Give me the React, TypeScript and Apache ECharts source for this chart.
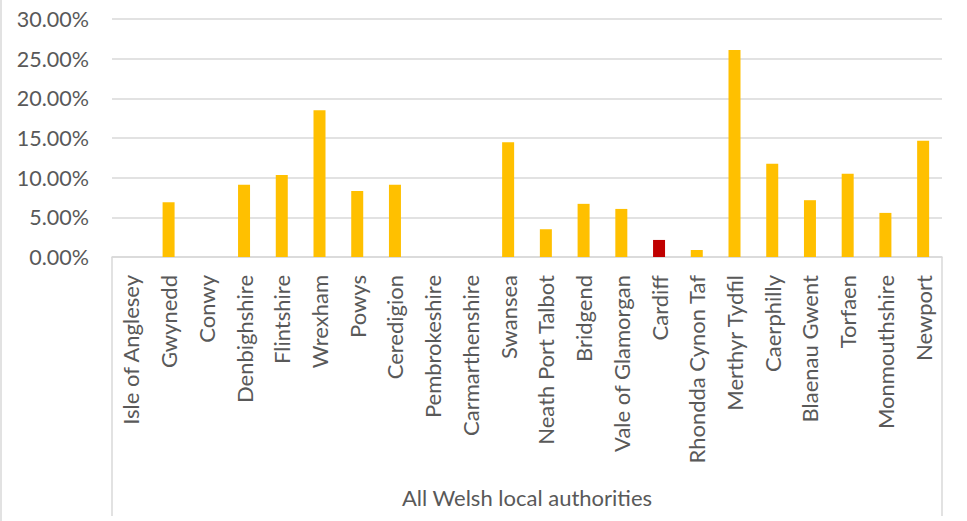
import React, { useEffect, useRef } from "react";
import * as echarts from "echarts";

const categories = [
  "Isle of Anglesey", "Gwynedd", "Conwy", "Denbighshire", "Flintshire", "Wrexham",
  "Powys", "Ceredigion", "Pembrokeshire", "Carmarthenshire", "Swansea",
  "Neath Port Talbot", "Bridgend", "Vale of Glamorgan", "Cardiff",
  "Rhondda Cynon Taf", "Merthyr Tydfil", "Caerphilly", "Blaenau Gwent",
  "Torfaen", "Monmouthshire", "Newport",
];
const values: (number | null)[] = [
  null, 6.9, null, 9.1, 10.35, 18.5,
  8.33, 9.1, null, null, 14.48,
  3.5, 6.7, 6.06, 2.15,
  0.88, 26.1, 11.75, 7.16,
  10.48, 5.56, 14.65,
];
const highlighted = ["Cardiff"];
const groupLabel = "All Welsh local authorities";
const yMin = 0;
const yMax = 30;
const yInterval = 5;

const FONT = "Lato";
const TEXT = "#595959";
const LINE = "#d9d9d9";

export default function App() {
  const ref = useRef<HTMLDivElement>(null);
  useEffect(() => {
    if (!ref.current) return;
    const chart = echarts.init(ref.current, undefined, { renderer: "svg" });
    const gridLeft = 112;
    const gridRight = 25;
    const gridTop = 19;
    const gridBottom = 264;
    const W = 967;
    const H = 521;
    chart.setOption({
      animation: false,
      backgroundColor: "#ffffff",
      textStyle: { fontFamily: FONT },
      grid: { left: gridLeft, right: gridRight, top: gridTop, bottom: gridBottom, containLabel: false },
      xAxis: {
        type: "category",
        data: categories,
        name: groupLabel,
        nameLocation: "middle",
        nameGap: 229,
        nameTextStyle: { fontFamily: FONT, fontSize: 22, color: TEXT },
        axisLine: { lineStyle: { color: LINE, width: 1.5 } },
        axisTick: { show: false },
        axisLabel: {
          interval: 0,
          rotate: 90,
          margin: 18,
          fontFamily: FONT,
          fontSize: 22,
          color: TEXT,
        },
      },
      yAxis: {
        type: "value",
        min: yMin,
        max: yMax,
        interval: yInterval,
        axisLine: { show: false },
        axisTick: { show: false },
        splitLine: { lineStyle: { color: LINE, width: 1.5 } },
        axisLabel: {
          margin: 23,
          fontFamily: FONT,
          fontSize: 21.5,
          color: TEXT,
          formatter: (v: number) => v.toFixed(2) + "%",
        },
      },
      series: [
        {
          type: "bar",
          barWidth: 12,
          data: values.map((v, i) => ({
            value: v,
            itemStyle: { color: highlighted.includes(categories[i]) ? "#C00000" : "#FFC000" },
          })),
        },
      ],
      graphic: [
        { type: "line", shape: { x1: 1, y1: 0, x2: 1, y2: H }, style: { stroke: LINE, lineWidth: 1.5 } },
        { type: "line", shape: { x1: gridLeft, y1: H - gridBottom, x2: gridLeft, y2: 516 }, style: { stroke: LINE, lineWidth: 1.5 } },
        { type: "line", shape: { x1: W - gridRight, y1: H - gridBottom, x2: W - gridRight, y2: 516 }, style: { stroke: LINE, lineWidth: 1.5 } },
      ],
    });
    return () => chart.dispose();
  }, []);
  return (
    <div
      ref={ref}
      style={{ position: "fixed", left: 0, top: 0, width: 967, height: 521, background: "#fff" }}
    />
  );
}
